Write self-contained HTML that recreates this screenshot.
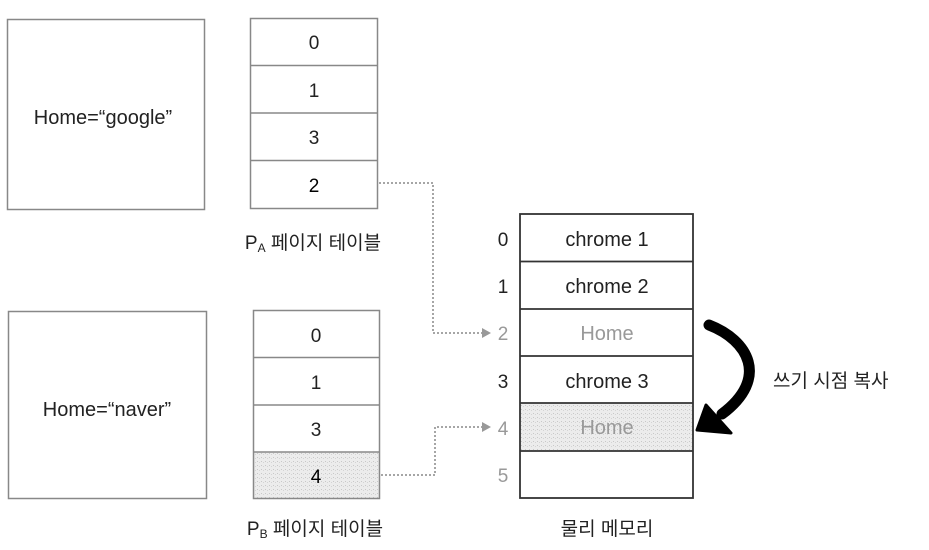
<!DOCTYPE html>
<html><head><meta charset="utf-8"><style>
body{margin:0;background:#fff;}
svg text{font-family:"Liberation Sans","Noto Sans CJK KR",sans-serif;}
</style></head><body>
<svg width="929" height="545" viewBox="0 0 929 545" xmlns="http://www.w3.org/2000/svg">
<defs>
<pattern id="dots" width="4" height="4" patternUnits="userSpaceOnUse">
<rect width="4" height="4" fill="#ececec"/><rect x="1" y="1" width="1" height="1" fill="#c8c8c8"/><rect x="3" y="2" width="1" height="1" fill="#d4d4d4"/>
</pattern>
</defs>
<rect x="7.5" y="19.5" width="197" height="190" fill="#fff" stroke="#888" stroke-width="1.5"/>
<text x="103" y="124" font-size="20" text-anchor="middle" fill="#222">Home=“google”</text>
<rect x="8.5" y="311.5" width="198" height="187" fill="#fff" stroke="#888" stroke-width="1.5"/>
<text x="107" y="416" font-size="20" text-anchor="middle" fill="#222">Home=“naver”</text>
<g stroke="#888" stroke-width="1.5" fill="#fff">
<rect x="250.5" y="18.5" width="127" height="190"/>
<line x1="250" y1="65.5" x2="378" y2="65.5"/>
<line x1="250" y1="113" x2="378" y2="113"/>
<line x1="250" y1="160.5" x2="378" y2="160.5"/>
</g>
<g font-size="19" text-anchor="middle" fill="#222">
<text x="314" y="49">0</text><text x="314" y="97">1</text><text x="314" y="144">3</text><text x="314" y="192" fill="#000">2</text>
</g>
<text x="313" y="249" font-size="19" text-anchor="middle" fill="#222">P<tspan font-size="12" dy="3">A</tspan><tspan dy="-3"> 페이지 테이블</tspan></text>
<rect x="253.5" y="452" width="126" height="46" fill="url(#dots)"/>
<g stroke="#888" stroke-width="1.5" fill="none">
<rect x="253.5" y="310.5" width="126" height="188"/>
<line x1="253" y1="357.5" x2="380" y2="357.5"/>
<line x1="253" y1="405" x2="380" y2="405"/>
<line x1="253" y1="452" x2="380" y2="452"/>
</g>
<g font-size="19" text-anchor="middle" fill="#222">
<text x="316" y="342">0</text><text x="316" y="389">1</text><text x="316" y="436">3</text><text x="316" y="483" fill="#000">4</text>
</g>
<text x="315" y="535" font-size="19" text-anchor="middle" fill="#222">P<tspan font-size="12" dy="3">B</tspan><tspan dy="-3"> 페이지 테이블</tspan></text>
<rect x="520" y="403" width="173" height="48" fill="url(#dots)"/>
<g stroke="#333" stroke-width="1.8" fill="none">
<rect x="520" y="214" width="173" height="284"/>
<line x1="520" y1="261.5" x2="693" y2="261.5"/>
<line x1="520" y1="309" x2="693" y2="309"/>
<line x1="520" y1="356" x2="693" y2="356"/>
<line x1="520" y1="403" x2="693" y2="403"/>
<line x1="520" y1="451" x2="693" y2="451"/>
</g>
<g font-size="20" text-anchor="middle" fill="#222">
<text x="607" y="246">chrome 1</text>
<text x="607" y="293">chrome 2</text>
<text x="607" y="340" fill="#999">Home</text>
<text x="607" y="388">chrome 3</text>
<text x="607" y="434" fill="#999">Home</text>
</g>
<g font-size="19" text-anchor="middle" fill="#222">
<text x="503" y="246">0</text><text x="503" y="293">1</text><text x="503" y="340" fill="#999">2</text>
<text x="503" y="388">3</text><text x="503" y="435" fill="#999">4</text><text x="503" y="482" fill="#999">5</text>
</g>
<text x="607" y="535" font-size="19" text-anchor="middle" fill="#222">물리 메모리</text>
<g stroke="#888" stroke-width="1.5" fill="none" stroke-dasharray="2,2">
<polyline points="379,183 433,183 433,333 482,333"/>
<polyline points="381,475 435,475 435,427 482,427"/>
</g>
<polygon points="482,328 491,333 482,338" fill="#999"/>
<polygon points="482,422 491,427 482,432" fill="#999"/>
<path d="M709,325 C748,340 770,378 722,414" stroke="#000" stroke-width="11" fill="none" stroke-linecap="round"/>
<polygon points="697,430 706,405 731,433" fill="#000" stroke="#000" stroke-width="3" stroke-linejoin="round"/>
<text x="773" y="387" font-size="19" fill="#222">쓰기 시점 복사</text>
</svg>
</body></html>
